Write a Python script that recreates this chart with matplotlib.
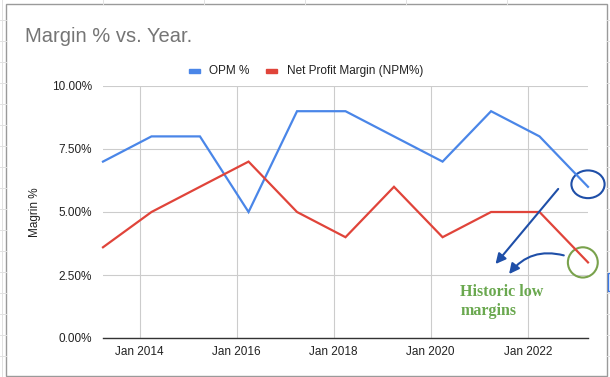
import matplotlib
matplotlib.use("Agg")
import matplotlib.pyplot as plt
import matplotlib.dates as mdates
from matplotlib.patches import Ellipse, Rectangle
from matplotlib.lines import Line2D
import datetime as dt

plt.rcParams['font.family'] = ['Liberation Sans', 'DejaVu Sans']

# data (fiscal year end, March)
years = list(range(2013, 2024))
opm = [7, 8, 8, 5, 9, 9, 8, 7, 9, 8, 6]
npm = [3.6, 5, 6, 7, 5, 4, 6, 4, 5, 5, 3]
tick_years = [2014, 2016, 2018, 2020, 2022]
yticks = [0, 2.5, 5, 7.5, 10]

dates = [dt.date(y, 3, 31) for y in years]
blue = '#4a86e8'
red = '#e0443a'
green = '#6aa84f'
navy = '#1f4fa8'

W, H = 610, 377
fig = plt.figure(figsize=(6.1, 3.77), dpi=100)

# spreadsheet background grid
for yy in range(20, 377, 21):
    fig.add_artist(Line2D([0, 6 / W], [1 - yy / H, 1 - yy / H], color='#e2e2e2', lw=0.7))
    fig.add_artist(Line2D([607 / W, 1], [1 - yy / H, 1 - yy / H], color='#e2e2e2', lw=0.7))
for xx in [103, 204, 305, 406, 507]:
    fig.add_artist(Line2D([xx / W, xx / W], [1 - 4 / H, 1], color='#e2e2e2', lw=0.7))
fig.add_artist(Line2D([2 / W, 2 / W], [0, 1], color='#e2e2e2', lw=0.7))

# chart box
fig.add_artist(Rectangle((6 / W, 1 - 375.5 / H), 601 / W, 371.5 / H, fill=False,
                         edgecolor='#9a9a9a', lw=1.0))
# small selection mark on the right
fig.add_artist(Rectangle((607.5 / W, 1 - 291 / H), 3 / W, 18 / H, fill=False,
                         edgecolor='#3b78e7', lw=1.0))

ax = fig.add_axes([103 / W, 1 - 338 / H, 485 / W, 252 / H])
ax.plot(dates, opm, color=blue, lw=1.6, solid_joinstyle='miter', clip_on=False)
ax.plot(dates, npm, color=red, lw=1.6, solid_joinstyle='miter', clip_on=False)

ax.set_xlim(dates[0], dates[-1])
ax.set_ylim(0, 10)
ax.set_yticks(yticks)
ax.set_yticklabels(['%.2f%%' % v for v in yticks])
ax.set_xticks([dt.date(y, 1, 1) for y in tick_years])
ax.xaxis.set_major_formatter(mdates.DateFormatter('Jan %Y'))
ax.grid(True, color='#cccccc', lw=0.8)
ax.set_axisbelow(True)
for s in ['top', 'right', 'left']:
    ax.spines[s].set_visible(False)
ax.spines['bottom'].set_color('#333333')
ax.spines['bottom'].set_linewidth(1.0)
ax.tick_params(length=0, labelsize=8.5, colors='#222222')
ax.tick_params(axis='y', pad=8)
ax.tick_params(axis='x', pad=6)
ax.set_ylabel('Magrin %', fontsize=8.5, color='#222222', labelpad=8)

# title and legend
fig.text(25 / W, 1 - 37 / H, 'Margin % vs. Year.', fontsize=14.5, color='#757575', va='center')
fig.add_artist(Rectangle((189 / W, 1 - 73 / H), 11 / W, 4 / H, color=blue))
fig.text(209 / W, 1 - 71 / H, 'OPM %', fontsize=8.5, color='#222222', va='center')
fig.add_artist(Rectangle((266 / W, 1 - 73 / H), 11 / W, 4 / H, color=red))
fig.text(287 / W, 1 - 71 / H, 'Net Profit Margin (NPM%)', fontsize=8.5, color='#222222', va='center')

# hand-drawn annotations
ax.add_patch(Ellipse((mdates.date2num(dt.date(2023, 3, 31)), 6.1), 250, 1.1,
                     fill=False, edgecolor=navy, lw=1.5, clip_on=False))
ax.add_patch(Ellipse((mdates.date2num(dt.date(2023, 2, 20)), 3.0), 225, 1.2,
                     fill=False, edgecolor='#79a24c', lw=1.5, clip_on=False))
ax.annotate('', xy=(dt.date(2021, 4, 20), 2.85), xytext=(dt.date(2022, 9, 1), 6.0),
            arrowprops=dict(arrowstyle='-|>', color=navy, lw=1.5, mutation_scale=15))
ax.annotate('', xy=(dt.date(2021, 8, 1), 2.45), xytext=(dt.date(2022, 10, 20), 3.25),
            arrowprops=dict(arrowstyle='-|>', color=navy, lw=1.5, mutation_scale=15,
                            connectionstyle='arc3,rad=0.35'))
ax.text(dt.date(2020, 8, 10), 1.45, 'Historic low\nmargins', fontsize=11.5, fontweight='bold',
        family='Liberation Serif', color=green, va='center', linespacing=1.25)

fig.savefig('out.png', dpi=100)
